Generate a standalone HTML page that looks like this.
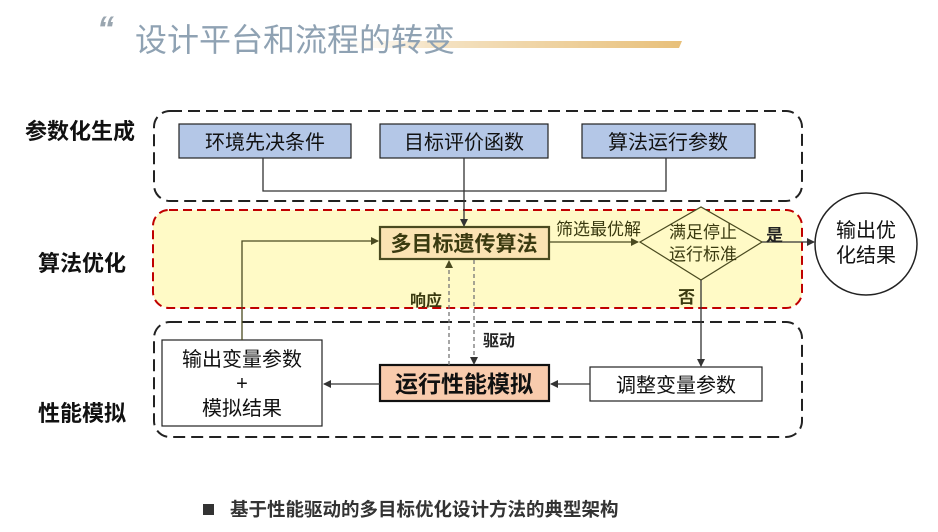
<!DOCTYPE html>
<html><head><meta charset="utf-8"><style>
html,body{margin:0;padding:0;background:#fff;}
svg{display:block;font-family:"Liberation Sans","Noto Sans CJK SC",sans-serif;}
</style></head><body>
<svg width="938" height="532" viewBox="0 0 938 532" xmlns="http://www.w3.org/2000/svg">
<defs>
<linearGradient id="g" x1="0" x2="1"><stop offset="0" stop-color="#fff" stop-opacity="0"/><stop offset="0.3" stop-color="#f5e4c6"/><stop offset="1" stop-color="#e8c07a"/></linearGradient>
<marker id="a" markerWidth="8" markerHeight="8" refX="7" refY="4" orient="auto" markerUnits="userSpaceOnUse"><path d="M0,0 L8,4 L0,8 z" fill="#333"/></marker>
<marker id="b" markerWidth="8" markerHeight="8" refX="7" refY="4" orient="auto" markerUnits="userSpaceOnUse"><path d="M0,0 L8,4 L0,8 z" fill="#4a4a20"/></marker>
</defs>
<text x="97" y="40" font-size="34" fill="#9aa6b0" font-style="italic" font-weight="bold">“</text>
<polygon points="320,41 682,41 679,48 317,48" fill="url(#g)"/>
<text x="135" y="51" font-size="32" fill="#8fa2b3">设计平台和流程的转变</text>

<rect x="154" y="111" width="648" height="90" rx="16" fill="none" stroke="#222" stroke-width="2" stroke-dasharray="12,6"/>
<rect x="153" y="210" width="649" height="98" rx="16" fill="#fffac6" stroke="#c00000" stroke-width="2" stroke-dasharray="9,5"/>
<rect x="154" y="322" width="648" height="115" rx="16" fill="none" stroke="#222" stroke-width="2" stroke-dasharray="12,6"/>

<text x="25" y="139" font-size="22" font-weight="bold" fill="#111">参数化生成</text>
<text x="38" y="271" font-size="22" font-weight="bold" fill="#111">算法优化</text>
<text x="38" y="421" font-size="22" font-weight="bold" fill="#111">性能模拟</text>

<g font-size="20" fill="#111" text-anchor="middle">
<rect x="179" y="124" width="172" height="34" fill="#b4c7e7" stroke="#222" stroke-width="1.2"/>
<text x="265" y="149">环境先决条件</text>
<rect x="380" y="124" width="168" height="34" fill="#b4c7e7" stroke="#222" stroke-width="1.2"/>
<text x="464" y="149">目标评价函数</text>
<rect x="582" y="124" width="173" height="34" fill="#b4c7e7" stroke="#222" stroke-width="1.2"/>
<text x="668" y="149">算法运行参数</text>
</g>
<path d="M263,158 V191 H666 V158" fill="none" stroke="#333" stroke-width="1.3"/>
<line x1="464" y1="158" x2="464" y2="226" stroke="#333" stroke-width="1.3" marker-end="url(#a)"/>

<rect x="380" y="227" width="169" height="32" fill="#fbe3b3" stroke="#4a4a20" stroke-width="2.2"/>
<text x="464" y="251" font-size="21" font-weight="bold" fill="#3a3a10" text-anchor="middle">多目标遗传算法</text>
<line x1="549" y1="242" x2="638" y2="242" stroke="#4a4a20" stroke-width="1.3" marker-end="url(#b)"/>
<text x="556" y="235" font-size="17" fill="#3a3a10">筛选最优解</text>
<polygon points="640,242 701,207 762,242 701,280" fill="#fffac6" stroke="#4a4a20" stroke-width="1.2"/>
<text x="703" y="238" font-size="17" fill="#3a3a10" text-anchor="middle">满足停止</text>
<text x="703" y="260" font-size="17" fill="#3a3a10" text-anchor="middle">运行标准</text>
<line x1="762" y1="242" x2="814" y2="242" stroke="#333" stroke-width="1.3" marker-end="url(#a)"/>
<text x="766" y="241" font-size="17" font-weight="bold" fill="#222">是</text>
<circle cx="866" cy="244" r="51" fill="#fff" stroke="#222" stroke-width="1.5"/>
<text x="866" y="237" font-size="20" fill="#111" text-anchor="middle">输出优</text>
<text x="866" y="262" font-size="20" fill="#111" text-anchor="middle">化结果</text>
<text x="678" y="303" font-size="17" font-weight="bold" fill="#3a3a10">否</text>
<line x1="701" y1="280" x2="701" y2="366" stroke="#333" stroke-width="1.3" marker-end="url(#a)"/>

<rect x="590" y="367" width="172" height="34" fill="#fff" stroke="#222" stroke-width="1.2"/>
<text x="676" y="392" font-size="20" fill="#111" text-anchor="middle">调整变量参数</text>
<line x1="590" y1="384" x2="551" y2="384" stroke="#333" stroke-width="1.3" marker-end="url(#a)"/>
<rect x="380" y="365" width="169" height="36" fill="#f8cbad" stroke="#111" stroke-width="2.2"/>
<text x="464" y="392" font-size="23" font-weight="bold" fill="#111" text-anchor="middle">运行性能模拟</text>
<line x1="380" y1="384" x2="324" y2="384" stroke="#333" stroke-width="1.3" marker-end="url(#a)"/>
<rect x="162" y="340" width="160" height="86" fill="#fff" stroke="#222" stroke-width="1.2"/>
<g font-size="20" fill="#111" text-anchor="middle">
<text x="242" y="366">输出变量参数</text>
<text x="242" y="390">+</text>
<text x="242" y="415">模拟结果</text>
</g>
<path d="M242,340 V241 H378" fill="none" stroke="#4a4a20" stroke-width="1.3" marker-end="url(#b)"/>
<line x1="449" y1="365" x2="449" y2="261" stroke="#777" stroke-width="1.3" stroke-dasharray="4,3" marker-end="url(#b)"/>
<line x1="474" y1="260" x2="474" y2="364" stroke="#777" stroke-width="1.3" stroke-dasharray="4,3" marker-end="url(#a)"/>
<text x="410" y="306" font-size="16" font-weight="bold" fill="#3a3a10">响应</text>
<text x="483" y="346" font-size="16" font-weight="bold" fill="#222">驱动</text>

<rect x="203" y="504" width="11" height="11" fill="#333"/>
<text x="230" y="516" font-size="18.5" font-weight="bold" fill="#333">基于性能驱动的多目标优化设计方法的典型架构</text>
</svg>
</body></html>
